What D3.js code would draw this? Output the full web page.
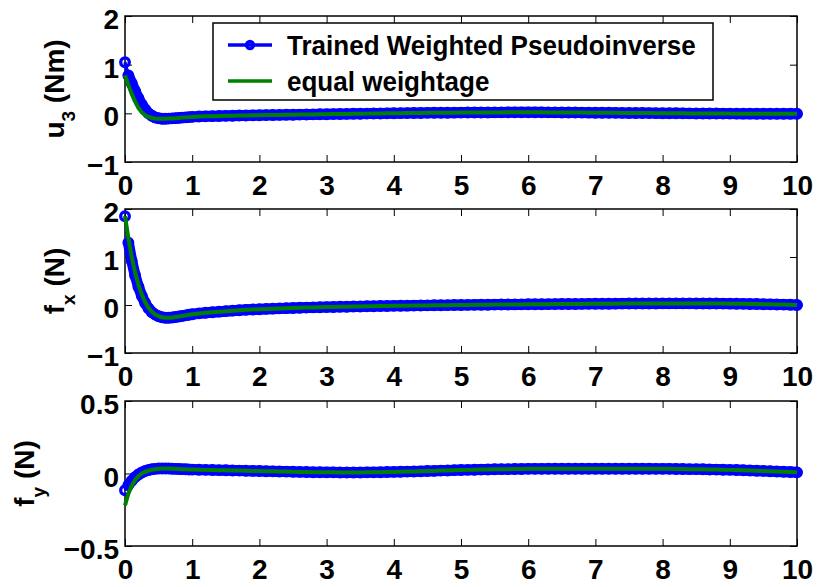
<!DOCTYPE html>
<html>
<head>
<meta charset="utf-8">
<script src="https://cdn.jsdelivr.net/npm/d3@7"></script>
<style>
  body { margin: 0; background: #fff; }
  svg { display: block; }
</style>
</head>
<body>
<div id="chart"></div>
<script>
// sample times (s): fine steps up to 1 s, then 0.1 s
var tHead = [0, 0.05, 0.1, 0.15, 0.2, 0.25, 0.3, 0.35, 0.4, 0.45, 0.5, 0.55, 0.6, 0.65, 0.7, 0.75, 0.8, 0.85, 0.9, 0.95, 1.0];
var tTail = [1.1, 1.2, 1.3, 1.4, 1.5, 1.6, 1.7, 1.8, 1.9, 2.0,
             2.1, 2.2, 2.3, 2.4, 2.5, 2.6, 2.7, 2.8, 2.9, 3.0,
             3.1, 3.2, 3.3, 3.4, 3.5, 3.6, 3.7, 3.8, 3.9, 4.0,
             4.1, 4.2, 4.3, 4.4, 4.5, 4.6, 4.7, 4.8, 4.9, 5.0,
             5.1, 5.2, 5.3, 5.4, 5.5, 5.6, 5.7, 5.8, 5.9, 6.0,
             6.1, 6.2, 6.3, 6.4, 6.5, 6.6, 6.7, 6.8, 6.9, 7.0,
             7.1, 7.2, 7.3, 7.4, 7.5, 7.6, 7.7, 7.8, 7.9, 8.0,
             8.1, 8.2, 8.3, 8.4, 8.5, 8.6, 8.7, 8.8, 8.9, 9.0,
             9.1, 9.2, 9.3, 9.4, 9.5, 9.6, 9.7, 9.8, 9.9, 10.0];

// u3 (Nm)
var u3TrainedHead = [1.05, 0.78, 0.62, 0.46, 0.31, 0.18, 0.08, 0.0, -0.05, -0.085, -0.10, -0.11, -0.11, -0.108, -0.104, -0.099, -0.094, -0.088, -0.083, -0.078, -0.073];
var u3EqualHead = [0.78, 0.58, 0.40, 0.24, 0.11, 0.02, -0.04, -0.075, -0.095, -0.105, -0.11, -0.112, -0.11, -0.108, -0.104, -0.099, -0.094, -0.088, -0.083, -0.078, -0.073];
var u3Tail = [-0.066, -0.062, -0.058, -0.055, -0.052, -0.049, -0.046, -0.043, -0.041, -0.038,
              -0.036, -0.034, -0.032, -0.030, -0.028, -0.026, -0.024, -0.022, -0.020, -0.018,
              -0.016, -0.014, -0.012, -0.010, -0.008, -0.006, -0.004, -0.002, 0.000, 0.002,
              0.004, 0.005, 0.007, 0.008, 0.010, 0.011, 0.012, 0.013, 0.014, 0.015,
              0.016, 0.017, 0.018, 0.018, 0.019, 0.019, 0.020, 0.020, 0.020, 0.020,
              0.020, 0.020, 0.019, 0.019, 0.018, 0.017, 0.016, 0.015, 0.014, 0.013,
              0.012, 0.011, 0.010, 0.009, 0.008, 0.007, 0.006, 0.005, 0.004, 0.003,
              0.002, 0.001, 0.000, -0.001, -0.002, -0.003, -0.004, -0.004, -0.005, -0.006,
              -0.006, -0.007, -0.007, -0.008, -0.008, -0.009, -0.009, -0.010, -0.010, -0.010];

// fx (N)
var fxTrainedHead = [1.85, 1.30, 0.92, 0.62, 0.38, 0.19, 0.04, -0.07, -0.15, -0.20, -0.235, -0.255, -0.265, -0.265, -0.26, -0.25, -0.24, -0.228, -0.216, -0.204, -0.192];
var fxEqualHead = [1.85, 1.40, 1.00, 0.68, 0.42, 0.22, 0.06, -0.06, -0.14, -0.20, -0.235, -0.255, -0.265, -0.265, -0.26, -0.25, -0.24, -0.228, -0.216, -0.204, -0.192];
var fxTail = [-0.175, -0.162, -0.150, -0.139, -0.128, -0.118, -0.109, -0.101, -0.094, -0.087,
              -0.081, -0.076, -0.071, -0.066, -0.062, -0.058, -0.054, -0.050, -0.047, -0.044,
              -0.041, -0.038, -0.035, -0.032, -0.030, -0.027, -0.025, -0.022, -0.020, -0.018,
              -0.016, -0.014, -0.012, -0.010, -0.008, -0.006, -0.005, -0.003, -0.001, 0.000,
              0.002, 0.003, 0.005, 0.006, 0.008, 0.009, 0.011, 0.012, 0.013, 0.015,
              0.016, 0.017, 0.018, 0.019, 0.020, 0.021, 0.022, 0.023, 0.024, 0.025,
              0.026, 0.027, 0.028, 0.029, 0.030, 0.031, 0.031, 0.032, 0.032, 0.033,
              0.033, 0.033, 0.033, 0.033, 0.032, 0.032, 0.031, 0.030, 0.029, 0.028,
              0.026, 0.024, 0.022, 0.020, 0.017, 0.014, 0.011, 0.008, 0.004, 0.000];

// fy (N)
var fyTrainedHead = [-0.115, -0.08, -0.05, -0.025, -0.007, 0.007, 0.017, 0.024, 0.029, 0.032, 0.034, 0.035, 0.035, 0.034, 0.033, 0.032, 0.031, 0.030, 0.029, 0.028, 0.027];
var fyEqualHead = [-0.22, -0.14, -0.085, -0.045, -0.018, 0.0, 0.012, 0.02, 0.026, 0.030, 0.033, 0.034, 0.035, 0.034, 0.033, 0.032, 0.031, 0.030, 0.029, 0.028, 0.027];
var fyTail = [0.026, 0.025, 0.024, 0.023, 0.022, 0.021, 0.020, 0.019, 0.018, 0.017,
              0.016, 0.015, 0.014, 0.013, 0.012, 0.011, 0.010, 0.009, 0.009, 0.008,
              0.008, 0.007, 0.007, 0.007, 0.007, 0.008, 0.008, 0.009, 0.010, 0.011,
              0.012, 0.013, 0.014, 0.015, 0.017, 0.018, 0.020, 0.021, 0.023, 0.024,
              0.025, 0.026, 0.027, 0.028, 0.029, 0.030, 0.030, 0.031, 0.031, 0.032,
              0.032, 0.032, 0.033, 0.033, 0.033, 0.033, 0.033, 0.033, 0.033, 0.033,
              0.033, 0.033, 0.033, 0.033, 0.033, 0.033, 0.033, 0.033, 0.032, 0.032,
              0.032, 0.031, 0.031, 0.030, 0.030, 0.029, 0.028, 0.027, 0.026, 0.025,
              0.024, 0.022, 0.021, 0.019, 0.018, 0.016, 0.014, 0.012, 0.010, 0.008];

var xTicks = [0, 1, 2, 3, 4, 5, 6, 7, 8, 9, 10];
var seriesNames = ['Trained Weighted Pseudoinverse', 'equal weightage'];

var t = tHead.concat(tTail);

var Width = 818, Height = 587;
var FONT = '"Liberation Sans", Arial, Helvetica, sans-serif';
var FS = 28;
var BLUE = '#0000ff', GREEN = '#008000';

var panels = [
  {top: 16, bottom: 162, yDomain: [-1, 2], yTicks: [-1, 0, 1, 2],
   label: ['u', '3', ' (Nm)'], labelX: 64,
   trained: u3TrainedHead.concat(u3Tail), equal: u3EqualHead.concat(u3Tail)},
  {top: 209, bottom: 353, yDomain: [-1, 2], yTicks: [-1, 0, 1, 2],
   label: ['f', 'x', ' (N)'], labelX: 64,
   trained: fxTrainedHead.concat(fxTail), equal: fxEqualHead.concat(fxTail)},
  {top: 401, bottom: 546, yDomain: [-0.5, 0.5], yTicks: [-0.5, 0, 0.5],
   label: ['f', 'y', ' (N)'], labelX: 34,
   trained: fyTrainedHead.concat(fyTail), equal: fyEqualHead.concat(fyTail)}
];

var svg = d3.select('#chart').append('svg')
            .attr('width', Width)
            .attr('height', Height)
            .style('background', '#fff');

var x = d3.scaleLinear().domain([0, 10]).range([125, 797]);

function tickText(d){
  return d < 0 ? '\u2212' + Math.abs(d) : String(d);
}

function styleAxis(g){
  g.select('.domain').remove();
  g.selectAll('.tick line').attr('stroke', '#000').attr('stroke-width', 1);
  g.attr('font-family', FONT).attr('font-size', FS).attr('font-weight', 'bold');
}

panels.forEach(function(p){
  var y = d3.scaleLinear().domain(p.yDomain).range([p.bottom, p.top]);
  var g = svg.append('g');

  // ticks on all four sides, pointing inward
  g.append('g').attr('transform', `translate(0,${p.bottom})`)
   .call(d3.axisBottom(x).tickValues(xTicks).tickSizeInner(-7).tickSizeOuter(0).tickPadding(13).tickFormat(tickText))
   .call(styleAxis);
  g.append('g').attr('transform', `translate(0,${p.top})`)
   .call(d3.axisTop(x).tickValues(xTicks).tickSizeInner(-7).tickSizeOuter(0).tickFormat(''))
   .call(styleAxis);
  var yl = g.append('g').attr('transform', `translate(${x(0)},0)`)
   .call(d3.axisLeft(y).tickValues(p.yTicks).tickSizeInner(-7).tickSizeOuter(0).tickPadding(6).tickFormat(tickText))
   .call(styleAxis);
  yl.selectAll('.tick text').attr('dy', '0.45em');
  g.append('g').attr('transform', `translate(${x(10)},0)`)
   .call(d3.axisRight(y).tickValues(p.yTicks).tickSizeInner(-7).tickSizeOuter(0).tickFormat(''))
   .call(styleAxis);

  g.append('rect')
   .attr('x', x(0)).attr('y', p.top)
   .attr('width', x(10) - x(0)).attr('height', p.bottom - p.top)
   .attr('fill', 'none').attr('stroke', '#000').attr('stroke-width', 1.5);

  // y label with subscript
  var lab = g.append('text')
             .attr('transform', `translate(${p.labelX},${(p.top + p.bottom) / 2}) rotate(-90)`)
             .attr('text-anchor', 'middle')
             .attr('font-family', FONT).attr('font-weight', 'bold').attr('font-size', FS);
  lab.append('tspan').text(p.label[0]);
  lab.append('tspan').attr('dy', 11).attr('font-size', 19).text(p.label[1]);
  lab.append('tspan').attr('dy', -11).text(p.label[2]);

  var line = d3.line().x(function(d, i){ return x(t[i]); }).y(function(d){ return y(d); });
  var lineFrom1 = d3.line().x(function(d, i){ return x(t[i + 1]); }).y(function(d){ return y(d); });

  // dense markers merge into a solid band: underlay from the second sample on
  g.append('path').datum(p.trained.slice(1))
   .attr('d', lineFrom1).attr('fill', 'none')
   .attr('stroke', BLUE).attr('stroke-width', 11).attr('stroke-linejoin', 'round').attr('stroke-linecap', 'round');
  g.append('path').datum(p.trained)
   .attr('d', line).attr('fill', 'none')
   .attr('stroke', BLUE).attr('stroke-width', 3.3).attr('stroke-linejoin', 'round');
  g.append('g').selectAll('circle').data(p.trained)
   .enter().append('circle')
   .attr('cx', function(d, i){ return x(t[i]); })
   .attr('cy', function(d){ return y(d); })
   .attr('r', 4.3)
   .attr('fill', 'none').attr('stroke', BLUE).attr('stroke-width', 3.3);

  g.append('path').datum(p.equal)
   .attr('d', line).attr('fill', 'none')
   .attr('stroke', GREEN).attr('stroke-width', 4).attr('stroke-linejoin', 'round');
});

// legend in the first panel
var lg = svg.append('g');
lg.append('rect').attr('x', 213).attr('y', 23).attr('width', 500).attr('height', 77)
  .attr('fill', '#fff').attr('stroke', '#000').attr('stroke-width', 1.5);
var rows = lg.selectAll('g.row').data(seriesNames).enter().append('g')
             .attr('class', 'row')
             .attr('transform', function(d, i){ return `translate(0,${45 + i * 36})`; });
rows.append('line').attr('x1', 228).attr('x2', 272).attr('y1', 0).attr('y2', 0)
    .attr('stroke', function(d, i){ return i === 0 ? BLUE : GREEN; })
    .attr('stroke-width', 3.3);
rows.filter(function(d, i){ return i === 0; })
    .append('circle').attr('cx', 250).attr('cy', 0).attr('r', 3.5)
    .attr('fill', 'none').attr('stroke', BLUE).attr('stroke-width', 3.3);
rows.append('text').attr('transform', 'translate(287,10) scale(0.93,1)')
    .attr('font-family', FONT).attr('font-weight', 'bold').attr('font-size', FS)
    .text(function(d){ return d; });
</script>
</body>
</html>
